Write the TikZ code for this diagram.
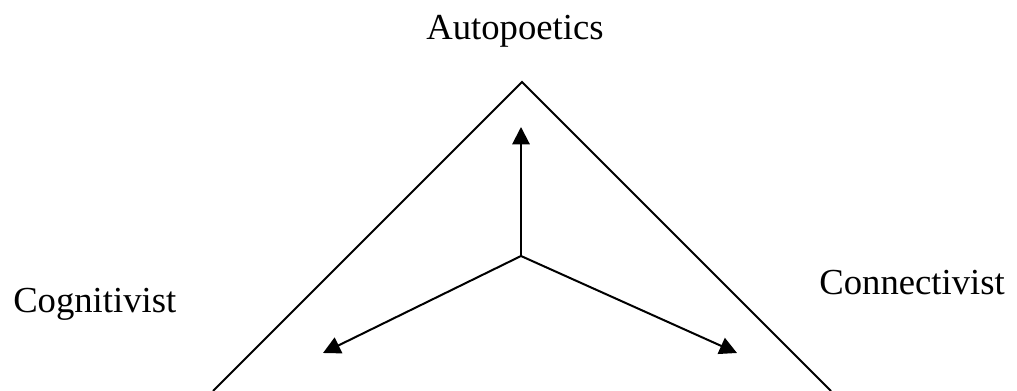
\documentclass[tikz,border=0pt]{standalone}
\usepackage{fontspec}
\setmainfont{Liberation Serif}
\usetikzlibrary{arrows.meta}
\tikzset{
  lbl/.style={anchor=base, inner sep=0pt, font=\fontsize{27.5pt}{33pt}\selectfont},
  spoke/.style={-{Triangle[width=13pt,length=13pt]}, line width=1.5pt},
}
\begin{document}
\begin{tikzpicture}[x=0.75pt,y=-0.75pt]
\useasboundingbox (0,0) rectangle (1017,391);
% corners and hub
\coordinate (apex) at (522,82);
\coordinate (lfoot) at (213,391);
\coordinate (rfoot) at (831,391);
\coordinate (hub) at (521,256);
\coordinate (up) at (521,127);
\coordinate (lt) at (323,353);
\coordinate (rt) at (737,353);
\node[lbl] (auto) at (515,40) {Autopoetics};
\node[lbl, anchor=base west] (cog) at (13,313) {Cognitivist};
\node[lbl, anchor=base east] (con) at (1005,295) {Connectivist};
\draw[line width=1.5pt] (lfoot) -- (apex) -- (rfoot);
\draw[spoke] (hub) -- (up);
\draw[spoke] (hub) -- (lt);
\draw[spoke] (hub) -- (rt);
\end{tikzpicture}
\end{document}
